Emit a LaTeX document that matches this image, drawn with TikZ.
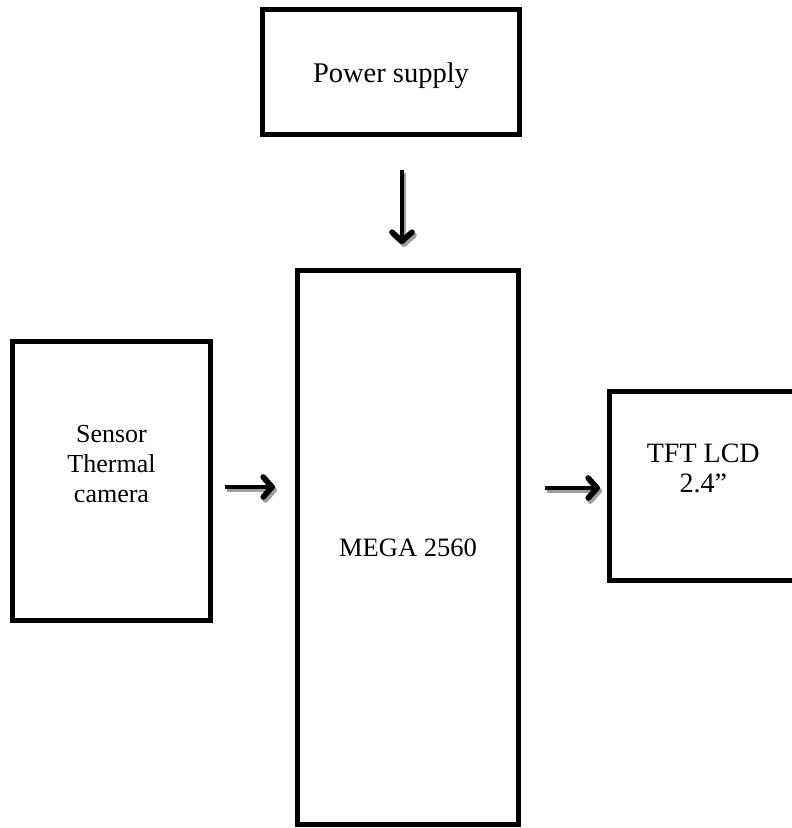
\documentclass[tikz,border=0pt]{standalone}
\usepackage{fontspec}
\setmainfont{Liberation Serif}
\usetikzlibrary{arrows.meta}
\begin{document}
\begin{tikzpicture}[x=1pt,y=-1pt,
  box/.style={draw=black, line width=5pt, rectangle, inner sep=0pt},
  boxtext/.style={align=center},
  arr/.style={line width=4.5pt, -{Straight Barb[length=9pt,width=20pt,line width=0pt 1.25,line cap=round,line join=round]}},
  shadowcol/.style={draw=black!38}]
\useasboundingbox (0,0) rectangle (792,828);

\node[box, minimum width=257pt, minimum height=125pt,
  label={[boxtext, font=\fontsize{28.5}{32}\selectfont, name=powertext, yshift=-4pt]center:Power supply}] (power) at (391,72) {};
\node[box, minimum width=221pt, minimum height=554pt,
  label={[boxtext, font=\fontsize{26.5}{30}\selectfont, name=megatext]center:MEGA 2560}] (mega) at (408,547.5) {};
\node[box, minimum width=198pt, minimum height=279pt,
  label={[boxtext, font=\fontsize{26}{30}\selectfont, name=sensortext, yshift=17pt]center:Sensor\\Thermal\\camera}] (sensor) at (111.5,481) {};
\node[box, minimum width=187.5pt, minimum height=189pt,
  label={[boxtext, font=\fontsize{28}{29.5}\selectfont, name=tfttext, yshift=17.5pt]center:TFT LCD\\2.4”}] (tft) at (703.25,486) {};

\coordinate (d1) at (402,170);
\coordinate (d2) at (402,244);
\coordinate (l1) at (225,487);
\coordinate (l2) at (275,487);
\coordinate (r1) at (545,488);
\coordinate (r2) at (600,488);

\begin{scope}[transform canvas={shift={(2pt,-3pt)}}]
\draw[arr, shadowcol] (d1) -- (d2);
\draw[arr, shadowcol] (l1) -- (l2);
\draw[arr, shadowcol] (r1) -- (r2);
\end{scope}
\draw[arr] (d1) -- (d2);
\draw[arr] (l1) -- (l2);
\draw[arr] (r1) -- (r2);
\end{tikzpicture}
\end{document}
